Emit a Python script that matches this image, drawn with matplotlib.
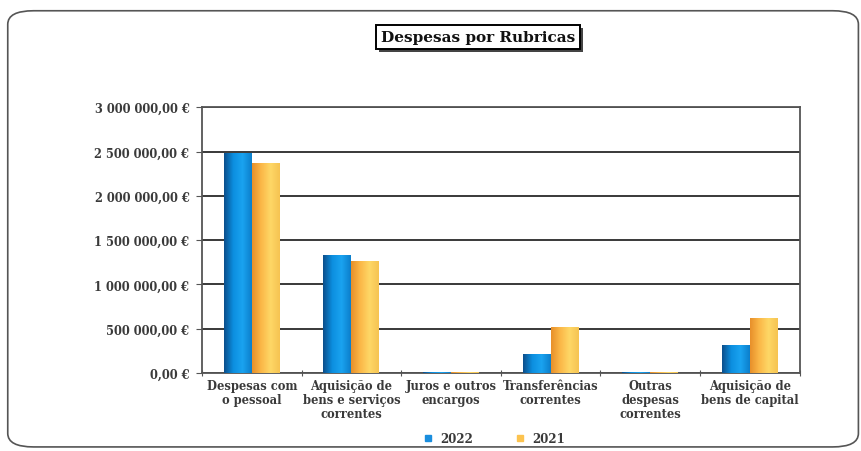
import numpy as np
import matplotlib
matplotlib.use("Agg")
import matplotlib.pyplot as plt
from matplotlib.patches import FancyBboxPatch, Rectangle
from matplotlib.lines import Line2D
from matplotlib.colors import LinearSegmentedColormap
from matplotlib.ticker import FuncFormatter, MultipleLocator

# Dados
categorias = [
    "Despesas com\no pessoal",
    "Aquisição de\nbens e serviços\ncorrentes",
    "Juros e outros\nencargos",
    "Transferências\ncorrentes",
    "Outras\ndespesas\ncorrentes",
    "Aquisição de\nbens de capital",
]
valores_2022 = [2480000, 1330000, 10000, 210000, 12000, 320000]
valores_2021 = [2370000, 1260000, 8000, 520000, 10000, 620000]
anos = ["2022", "2021"]

COR_2022 = "#1a8ede"
COR_2021 = "#fcc34f"
COR_TEXTO = "#3a3a3a"
FONTE = "DejaVu Serif"

# gradientes das barras (efeito cilíndrico do Excel)
grad_2022 = LinearSegmentedColormap.from_list("g22", ["#0b4f8c", "#0c8fe0", "#1aa3f0", "#0c7fcc"])
grad_2021 = LinearSegmentedColormap.from_list("g21", ["#e8902a", "#fbb848", "#fed766", "#f6c452"])

fig = plt.figure(figsize=(8.61, 4.52), dpi=100)

# moldura arredondada do gráfico
moldura = FancyBboxPatch((0.009, 0.009), 0.988, 0.965,
                         boxstyle="round,pad=0,rounding_size=0.03",
                         transform=fig.transFigure, fc="none", ec="#555555", lw=1.2)
fig.patches.append(moldura)

ax = fig.add_axes([0.2346, 0.1726, 0.694, 0.588])
ax.set_zorder(2)
x = np.arange(len(categorias))
w = 0.28
barras_22 = ax.bar(x - w / 2, valores_2022, w, color=COR_2022, lw=0, zorder=3)
barras_21 = ax.bar(x + w / 2, valores_2021, w, color=COR_2021, lw=0, zorder=3)

ax.set_xlim(-0.5, len(categorias) - 0.5)
ax.set_ylim(0, 3000000)

grad = np.linspace(0, 1, 64).reshape(1, -1)
for barras, cmap in ((barras_22, grad_2022), (barras_21, grad_2021)):
    for b in barras:
        bx, by = b.get_x(), b.get_y()
        im = ax.imshow(grad, cmap=cmap, aspect="auto", zorder=4,
                       extent=(bx, bx + b.get_width(), by, by + b.get_height()))
        im.set_clip_path(b)

ax.set_xlim(-0.5, len(categorias) - 0.5)
ax.set_ylim(0, 3000000)
ax.yaxis.set_major_locator(MultipleLocator(500000))
ax.yaxis.set_major_formatter(FuncFormatter(
    lambda v, p: f"{v:,.2f}".replace(",", " ").replace(".", ",") + " €"))
ax.grid(axis="y", color="#2a2a2a", lw=1.3, zorder=1)

ax.set_xticks(np.arange(len(categorias) + 1) - 0.5)
ax.set_xticklabels([])
ax.set_xticks(x, minor=True)
ax.set_xticklabels(categorias, minor=True, fontfamily=FONTE, fontweight="bold",
                   fontsize=8.3, color=COR_TEXTO, linespacing=1.1)
ax.tick_params(axis="x", which="minor", length=0, pad=4)
ax.tick_params(axis="x", which="major", length=4, color="#555555", direction="inout")
ax.tick_params(axis="y", length=4, color="#555555", pad=5)
for lab in ax.get_yticklabels():
    lab.set_fontfamily(FONTE)
    lab.set_fontweight("bold")
    lab.set_fontsize(8.3)
    lab.set_color(COR_TEXTO)

for lado in ["left", "right", "top", "bottom"]:
    ax.spines[lado].set_color("#555555")
    ax.spines[lado].set_linewidth(1.3)

# título com caixa e sombra
fig.patches.append(Rectangle((0.4402, 0.8824), 0.237, 0.053, transform=fig.transFigure,
                             fc="#444444", ec="none"))
fig.patches.append(Rectangle((0.4367, 0.8894), 0.237, 0.053, transform=fig.transFigure,
                             fc="white", ec="black", lw=1.4))
fig.text(0.5552, 0.9155, "Despesas por Rubricas", ha="center", va="center",
         fontfamily=FONTE, fontweight="bold", fontsize=11, color="#111111")

handles = [Line2D([], [], marker="s", ls="none", color=c, markersize=5)
           for c in (COR_2022, COR_2021)]
fig.legend(handles, anos, loc="center", bbox_to_anchor=(0.57, 0.027), ncol=2,
           frameon=False, handletextpad=0.05, columnspacing=3.0,
           prop={"family": FONTE, "weight": "bold", "size": 8.5})
for t in fig.legends[0].get_texts():
    t.set_color(COR_TEXTO)

fig.savefig("out.png", dpi=100)
